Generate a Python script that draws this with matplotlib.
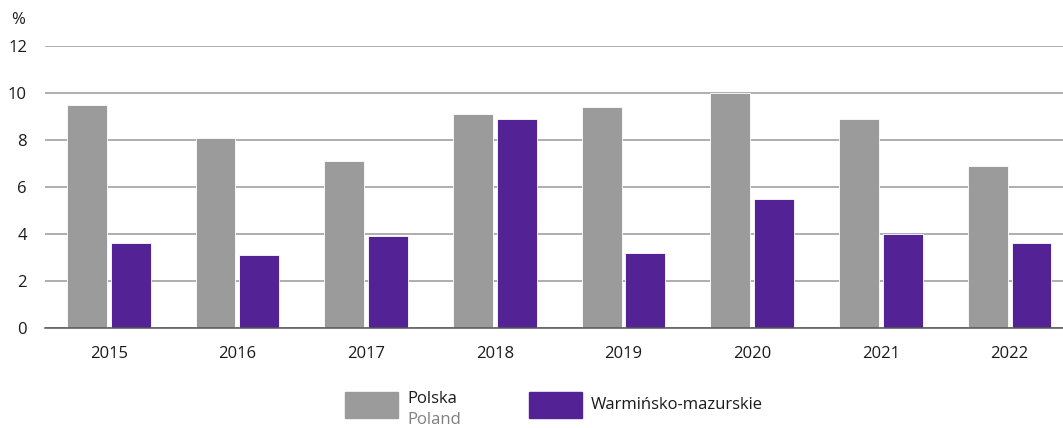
import numpy as np
import matplotlib.pyplot as plt
from matplotlib.patches import Rectangle

plt.rcParams['font.family'] = ['Open Sans', 'DejaVu Sans']

# rate per year, in percent
years = ["2015", "2016", "2017", "2018", "2019", "2020", "2021", "2022"]
polska = [9.5, 8.1, 7.1, 9.1, 9.4, 10.0, 8.9, 6.9]
warminsko = [3.6, 3.1, 3.9, 8.9, 3.2, 5.5, 4.0, 3.6]

gray = "#9b9b9b"
purple = "#532396"

W, H = 1063, 428
fig = plt.figure(figsize=(W / 100, H / 100), dpi=100)
ax = fig.add_axes([45 / W, (H - 328) / H, (W - 45) / W, 282 / H])

x = np.arange(len(years))
bw = 0.31
ax.bar(x - 0.17, polska, bw, color=gray, edgecolor="white", linewidth=0.6, zorder=3)
ax.bar(x + 0.17, warminsko, bw, color=purple, edgecolor="white", linewidth=0.6, zorder=3)

ax.set_ylim(0, 12)
ax.set_yticks(range(0, 13, 2))
ax.set_xlim(-0.495, (W - 45) / 128.7 - 0.495)
ax.set_xticks(x)
ax.set_xticklabels(years)

ax.grid(axis="y", color="#999999", linewidth=1.1, zorder=0)
for s in ["top", "right", "left"]:
    ax.spines[s].set_visible(False)
ax.spines["bottom"].set_color("#555555")
ax.spines["bottom"].set_linewidth(1.1)
ax.spines["bottom"].set_zorder(4)
ax.tick_params(axis="both", length=0, labelsize=12, colors="#1a1a1a")
ax.tick_params(axis="y", pad=13)
ax.tick_params(axis="x", pad=13)

fig.text(11 / W, 1 - 20 / H, "%", fontsize=12, color="#1a1a1a", va="center")

# legend
fig.patches.append(Rectangle((345 / W, 1 - 418 / H), 53 / W, 26 / H,
                             transform=fig.transFigure, color=gray))
fig.patches.append(Rectangle((529 / W, 1 - 418 / H), 53 / W, 26 / H,
                             transform=fig.transFigure, color=purple))
fig.text(407 / W, 1 - 399 / H, "Polska", fontsize=12, color="#1a1a1a", va="center")
fig.text(407 / W, 1 - 420 / H, "Poland", fontsize=12, color="#808080", va="center")
fig.text(591 / W, 1 - 405 / H, "Warmińsko-mazurskie", fontsize=12, color="#1a1a1a", va="center")

fig.savefig("out.png", dpi=100)
